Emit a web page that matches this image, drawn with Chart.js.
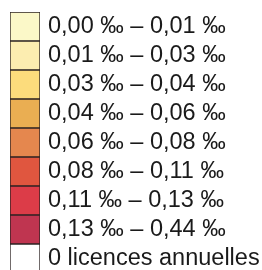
<!DOCTYPE html>
<html>
<head>
<meta charset="utf-8">
<script src="https://cdn.jsdelivr.net/npm/chart.js@4/dist/chart.umd.min.js"></script>
<style>
  html, body { margin: 0; padding: 0; background: #fff; overflow: hidden; }
  #wrap { position: relative; width: 262px; height: 273px; }
</style>
</head>
<body>
<div id="wrap"><canvas id="legendChart"></canvas></div>
<script>
// Classes (taux de licences, ‰)
const lowerBounds = ["0,00", "0,01", "0,03", "0,04", "0,06", "0,08", "0,11", "0,13"];
const upperBounds = ["0,01", "0,03", "0,04", "0,06", "0,08", "0,11", "0,13", "0,44"];
const noDataLabel = "0 licences annuelles";
const classColors = ["#fbf8c8", "#fcedb0", "#fcdc7c", "#eaae52", "#e5874e",
                     "#e0563f", "#dc3c48", "#bf3550", "#ffffff"];
// each class is one full-width cell of the legend column
const cellValues = [1, 1, 1, 1, 1, 1, 1, 1, 1];

const labels = lowerBounds.map((lo, i) => `${lo} ‰ – ${upperBounds[i]} ‰`);
labels.push(noDataLabel);

new Chart(document.getElementById("legendChart"), {
  type: "bar",
  data: {
    labels: labels,
    datasets: [{
      data: cellValues,
      backgroundColor: classColors,
      borderColor: "#2b2222",
      borderWidth: 1,
      borderSkipped: false,
      barPercentage: 1,
      categoryPercentage: 1
    }]
  },
  options: {
    indexAxis: "y",
    responsive: true,
    maintainAspectRatio: false,
    animation: false,
    layout: { padding: { left: 10, top: 12, right: 0, bottom: 0 } },
    plugins: { legend: { display: false }, tooltip: { enabled: false } },
    scales: {
      x: { display: false, min: 0, max: 1 },
      y: {
        position: "right",
        grid: { display: false, drawTicks: false },
        border: { display: false },
        ticks: {
          autoSkip: false,
          padding: 8,
          color: "#1a1a1a",
          font: { family: "'Liberation Sans', Arial, sans-serif", size: 23.5 }
        },
        afterFit: s => { s.width = 222; s.paddingTop = 0; s.paddingBottom = 0; }
      }
    }
  }
});
</script>
</body>
</html>
